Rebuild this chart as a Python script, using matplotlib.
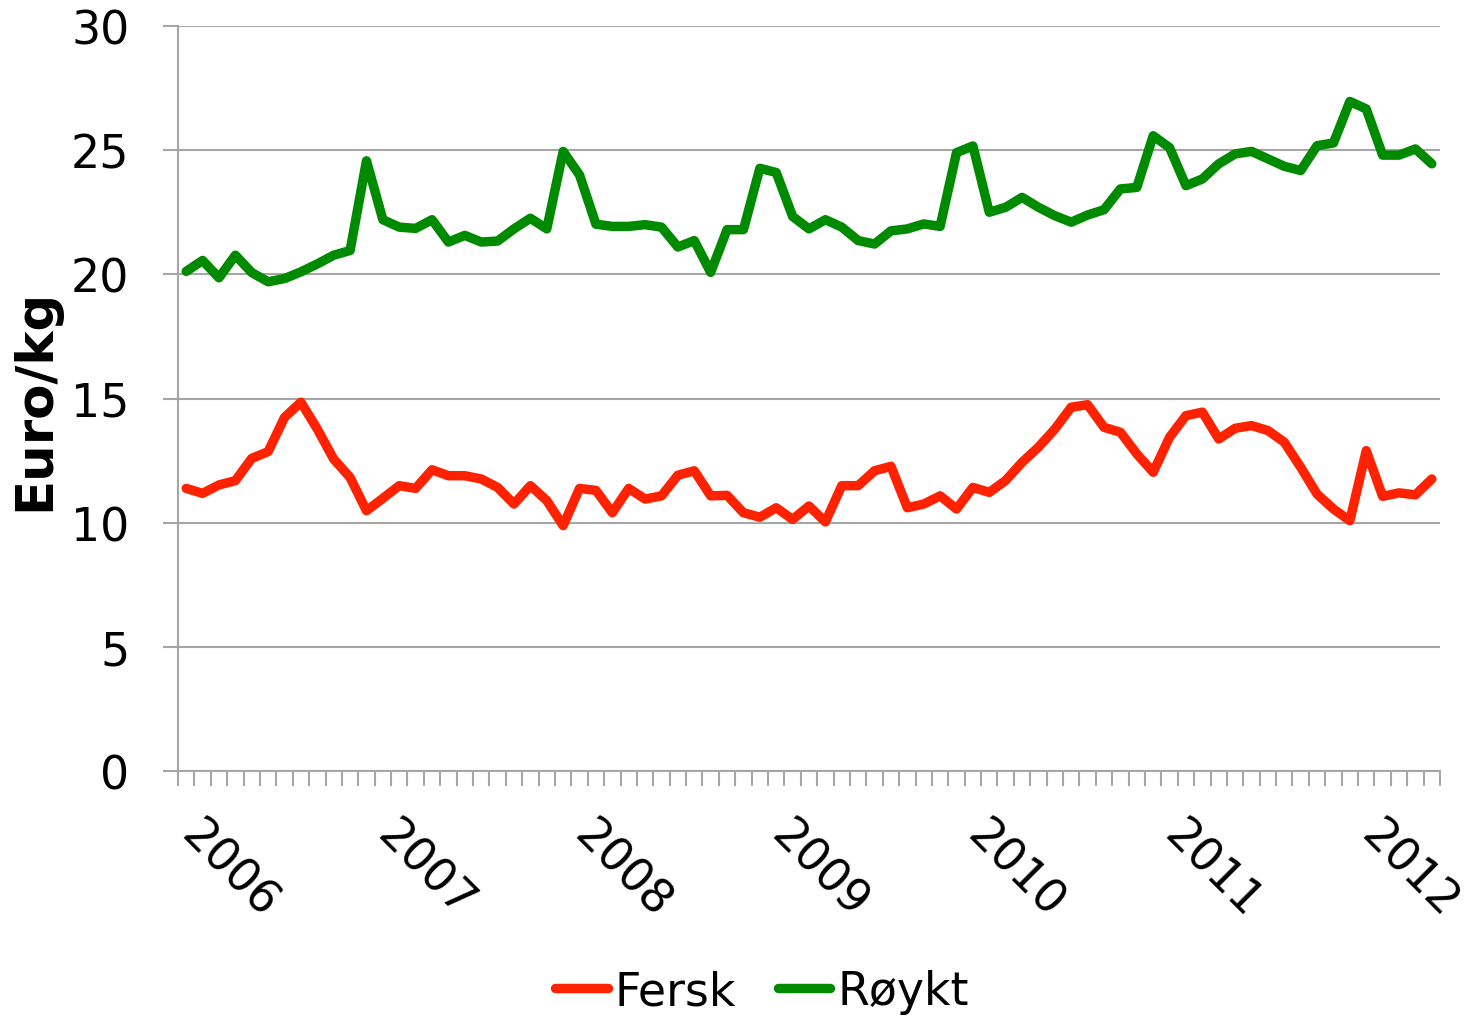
import numpy as np
import matplotlib
matplotlib.use("Agg")
import matplotlib.pyplot as plt
from matplotlib.transforms import blended_transform_factory

# Monthly prices, Jan 2006 - May 2012 (Euro/kg)
fersk = [11.38, 11.18, 11.52, 11.69, 12.59, 12.86, 14.24, 14.85, 13.77, 12.56, 11.82, 10.48,
         10.98, 11.49, 11.38, 12.13, 11.89, 11.89, 11.76, 11.42, 10.75, 11.49, 10.89, 9.88,
         11.38, 11.30, 10.40, 11.38, 10.95, 11.08, 11.91, 12.09, 11.08, 11.10, 10.40, 10.22,
         10.60, 10.13, 10.67, 10.03, 11.49, 11.49, 12.09, 12.27, 10.60, 10.75, 11.08, 10.55,
         11.42, 11.22, 11.70, 12.43, 13.04, 13.77, 14.65, 14.75, 13.84, 13.64, 12.77, 12.03,
         13.44, 14.31, 14.45, 13.37, 13.80, 13.91, 13.71, 13.24, 12.23, 11.15, 10.55, 10.08,
         12.90, 11.06, 11.20, 11.12, 11.76]
roykt = [20.12, 20.56, 19.86, 20.77, 20.07, 19.70, 19.83, 20.10, 20.42, 20.77, 20.96, 24.57,
         22.20, 21.90, 21.85, 22.20, 21.30, 21.57, 21.30, 21.34, 21.83, 22.26, 21.83, 24.95,
         24.00, 22.02, 21.93, 21.93, 22.00, 21.90, 21.10, 21.36, 20.08, 21.80, 21.80, 24.27,
         24.10, 22.33, 21.83, 22.20, 21.90, 21.36, 21.22, 21.75, 21.83, 22.03, 21.93, 24.90,
         25.17, 22.50, 22.70, 23.10, 22.70, 22.36, 22.10, 22.39, 22.60, 23.44, 23.50, 25.58,
         25.10, 23.57, 23.84, 24.45, 24.85, 24.95, 24.65, 24.35, 24.18, 25.18, 25.29, 26.96,
         26.66, 24.80, 24.80, 25.05, 24.45]
years = ["2006", "2007", "2008", "2009", "2010", "2011", "2012"]
y_ticks = [0, 5, 10, 15, 20, 25, 30]
series_names = ["Fersk", "Røykt"]

plt.rcParams['font.family'] = ['DejaVu Sans']

W, H = 1467, 1020
fig = plt.figure(figsize=(W / 100, H / 100), dpi=100)
ax = fig.add_axes([178 / W, 1 - 772 / H, (1440 - 178) / W, (772 - 27) / H])

x = np.arange(len(fersk))
grid_c = '#A6A6A6'
lw = 6.8
ax.plot(x, fersk, color='#FF2200', lw=lw, solid_joinstyle='round', solid_capstyle='round',
        label=series_names[0], zorder=3)
ax.plot(x, roykt, color='#008A00', lw=lw, solid_joinstyle='round', solid_capstyle='round',
        label=series_names[1], zorder=3)

ax.set_xlim(-0.5, len(x) - 0.5)
ax.set_ylim(0, 30)
ax.set_yticks(y_ticks)
ax.set_yticklabels([str(v) for v in y_ticks], fontsize=33)
ax.yaxis.grid(True, color=grid_c, lw=1.5)
ax.set_axisbelow(True)
ax.tick_params(axis='y', length=11, width=1.5, color=grid_c, pad=24)

ax.set_xticks(np.arange(-0.5, len(x), 1), minor=True)
ax.set_xticks([])
ax.tick_params(axis='x', which='minor', length=11, width=1.5, color=grid_c)

for s in ['top', 'right']:
    ax.spines[s].set_visible(False)
for s in ['left', 'bottom']:
    ax.spines[s].set_color(grid_c)
    ax.spines[s].set_linewidth(1.5)

trans = blended_transform_factory(ax.transData, ax.transAxes)
for k, yr in enumerate(years):
    ax.text(12 * k + 2.6, -0.132, yr, transform=trans, fontsize=33, rotation=-45,
            ha='center', va='center', rotation_mode='anchor')

ax.set_ylabel("Euro/kg", fontsize=37, fontweight='bold', labelpad=8)

leg = fig.legend(loc='center', bbox_to_anchor=(762 / W, 1 - 993 / H), ncol=2, frameon=False,
                 fontsize=33, handlelength=1.15, handletextpad=0.15, columnspacing=0.9)

fig.savefig("out.png", dpi=100)
